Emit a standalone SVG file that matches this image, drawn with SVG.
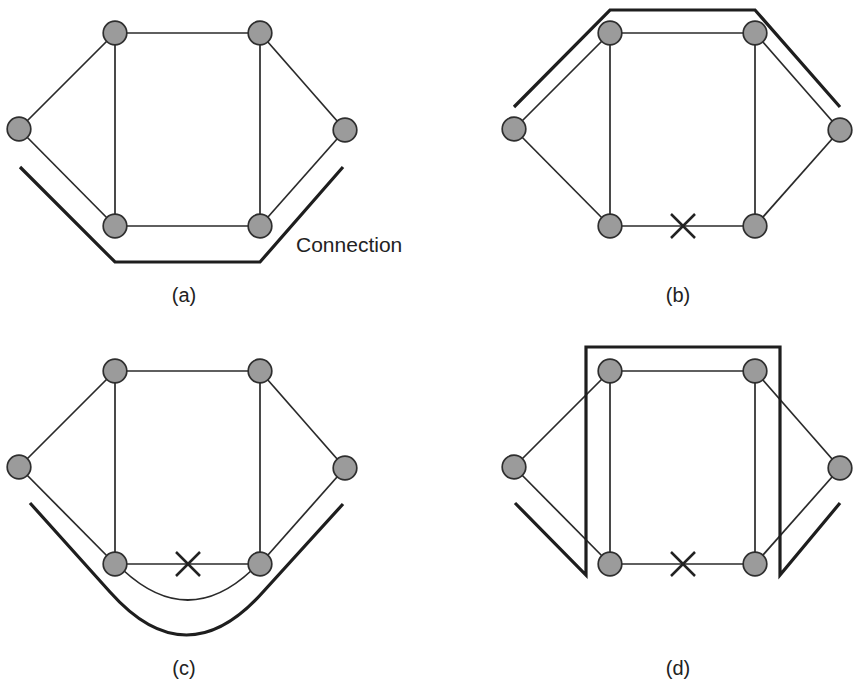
<svg xmlns="http://www.w3.org/2000/svg" width="853" height="683" viewBox="0 0 853 683">
<defs>
<style>
.edge{stroke:#2a2a2a;stroke-width:1.7;fill:none}
.conn{stroke:#1e1e1e;stroke-width:3.2;fill:none;stroke-linejoin:miter}
.node{fill:#9b9b9b;stroke:#2e2e2e;stroke-width:1.7}
.x{stroke:#222;stroke-width:2.5;fill:none}
.lbl{font-family:"Liberation Sans",Arial,sans-serif;font-size:20px;fill:#222;text-anchor:middle}
.cap{font-family:"Liberation Sans",Arial,sans-serif;font-size:21px;fill:#222}
</style>
<circle id="nd" r="11.8" class="node"/>
<g id="edges">
<line class="edge" x1="115" y1="33" x2="260" y2="33"/>
<line class="edge" x1="115" y1="33" x2="115" y2="226"/>
<line class="edge" x1="260" y1="33" x2="260" y2="226"/>
<line class="edge" x1="115" y1="226" x2="260" y2="226"/>
<line class="edge" x1="19" y1="129" x2="115" y2="33"/>
<line class="edge" x1="19" y1="129" x2="115" y2="226"/>
<line class="edge" x1="345" y1="130" x2="260" y2="33"/>
<line class="edge" x1="345" y1="130" x2="260" y2="226"/>
</g>
<g id="xmark">
<line class="x" x1="176" y1="214" x2="200" y2="238"/>
<line class="x" x1="200" y1="214" x2="176" y2="238"/>
</g>
</defs>

<!-- Panel (a) -->
<g id="panel-a">
<g id="connectors-a"><use href="#edges"/></g>
<g id="a-TL"><use href="#nd" x="115" y="33"/></g>
<g id="a-TR"><use href="#nd" x="260" y="33"/></g>
<g id="a-L"><use href="#nd" x="19" y="129"/></g>
<g id="a-R"><use href="#nd" x="345" y="130"/></g>
<g id="a-BL"><use href="#nd" x="115" y="226"/></g>
<g id="a-BR"><use href="#nd" x="260" y="226"/></g>
</g>

<!-- Panel (b) -->
<g id="panel-b" transform="translate(495,0)">
<g id="connectors-b"><use href="#edges"/></g>
<use href="#xmark" x="0" y="0"/>
<g id="b-TL"><use href="#nd" x="115" y="33"/></g>
<g id="b-TR"><use href="#nd" x="260" y="33"/></g>
<g id="b-L"><use href="#nd" x="19" y="129"/></g>
<g id="b-R"><use href="#nd" x="345" y="130"/></g>
<g id="b-BL"><use href="#nd" x="115" y="226"/></g>
<g id="b-BR"><use href="#nd" x="260" y="226"/></g>
</g>

<!-- Panel (c) -->
<g id="panel-c" transform="translate(0,338)">
<g id="connectors-c">
<use href="#edges"/>
<path class="edge" d="M123,232 Q188,292 252,232"/>
</g>
<use href="#xmark" x="0" y="0"/>
<g id="c-TL"><use href="#nd" x="115" y="33"/></g>
<g id="c-TR"><use href="#nd" x="260" y="33"/></g>
<g id="c-L"><use href="#nd" x="19" y="129"/></g>
<g id="c-R"><use href="#nd" x="345" y="130"/></g>
<g id="c-BL"><use href="#nd" x="115" y="226"/></g>
<g id="c-BR"><use href="#nd" x="260" y="226"/></g>
</g>

<!-- Panel (d) -->
<g id="panel-d" transform="translate(495,338)">
<g id="connectors-d"><use href="#edges"/></g>
<use href="#xmark" x="0" y="0"/>
<g id="d-TL"><use href="#nd" x="115" y="33"/></g>
<g id="d-TR"><use href="#nd" x="260" y="33"/></g>
<g id="d-L"><use href="#nd" x="19" y="129"/></g>
<g id="d-R"><use href="#nd" x="345" y="130"/></g>
<g id="d-BL"><use href="#nd" x="115" y="226"/></g>
<g id="d-BR"><use href="#nd" x="260" y="226"/></g>
</g>

<!-- Thick connection paths -->
<g id="connections">
<path class="conn" d="M20,167 L115,262 L260,262 L343,167"/>
<path class="conn" d="M514,107 L610,10 L755,10 L840,107"/>
<path class="conn" d="M30,503 L110,592 Q186.5,678 263,592 L343,504"/>
<path class="conn" d="M515,503 L586,575 L586,347 L780,347 L780,575 L840,503"/>
</g>

<g id="labels">
<text class="cap" x="296" y="252">Connection</text>
<text class="lbl" x="184" y="302">(a)</text>
<text class="lbl" x="678" y="302">(b)</text>
<text class="lbl" x="184" y="675">(c)</text>
<text class="lbl" x="678" y="675">(d)</text>
</g>
</svg>
